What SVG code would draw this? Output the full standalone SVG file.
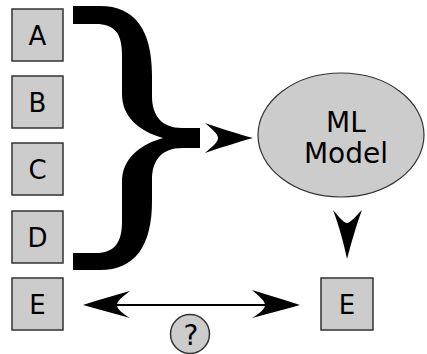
<svg xmlns="http://www.w3.org/2000/svg" width="427" height="354" viewBox="0 0 427 354">
<style>
.box{fill:#cccccc;stroke:#333333;stroke-width:1.5}
.lbl{font-family:"DejaVu Sans",sans-serif;font-size:26px;fill:#000;text-anchor:middle}
.big{font-family:"DejaVu Sans",sans-serif;font-size:28px;fill:#000;text-anchor:middle}
.head{fill:#000;stroke:none}
</style>
<rect width="427" height="354" fill="#ffffff"/>
<g id="nodeA"><rect class="box" x="12" y="9" width="51" height="52"/><text class="lbl" x="37.5" y="45">A</text></g>
<g id="nodeB"><rect class="box" x="12" y="76" width="51" height="52"/><text class="lbl" x="37.5" y="112">B</text></g>
<g id="nodeC"><rect class="box" x="12" y="143" width="51" height="52"/><text class="lbl" x="37.5" y="179">C</text></g>
<g id="nodeD"><rect class="box" x="12" y="211" width="51" height="52"/><text class="lbl" x="37.5" y="247">D</text></g>
<g id="nodeE"><rect class="box" x="12" y="278" width="51" height="52"/><text class="lbl" x="37.5" y="314">E</text></g>
<g id="model"><ellipse cx="341" cy="135" rx="83" ry="62" fill="#cccccc" stroke="#333333" stroke-width="1.2"/><text class="big" x="346" y="132">ML</text><text class="big" x="346" y="163">Model</text></g>
<g id="nodeE2"><rect class="box" x="321" y="278" width="52" height="52"/><text class="lbl" x="347" y="314">E</text></g>
<g id="question"><circle cx="190" cy="334" r="19.5" fill="#cccccc" stroke="#333333" stroke-width="1.5"/><text class="lbl" x="191" y="345" style="font-size:28px">?</text></g>
<g id="connectors">
<path id="brace" class="head" d="M73,6 L100,6 C135,6 152,30 152,75 L152,96 C152,116 162,128 182,128 L200,128 L200,148 L182,148 C162,148 152,160 152,180 L152,201 C152,246 135,270 100,270 L73,270 L73,253 L96,253 C114,253 122,243 122,222 L122,182 C122,160 138,145 163,138 C138,131 122,116 122,94 L122,54 C122,33 114,24 96,24 L73,24 Z"/>
<path class="head" d="M253,138 C238,134 220,128 205,123 C213,130 218,134 218,138 C218,142 213,146 205,153 C220,148 238,142 253,138 Z"/>
<path class="head" d="M347,259 C344,244 339,226 333,210 C340,218 344,223 347,223 C350,223 354,218 362,210 C356,226 351,244 347,259 Z"/>
<line x1="105" y1="305" x2="280" y2="305" stroke="#000" stroke-width="2.2"/>
<path class="head" d="M83,305 C98,300 115,295 130,291 C122,297 117,301 117,305 C117,309 122,313 130,318 C115,314 98,309 83,305 Z"/>
<path class="head" d="M300,305 C285,300 268,295 252,290 C260,297 265,301 265,305 C265,309 260,313 252,318 C268,314 285,309 300,305 Z"/>
</g>
</svg>
